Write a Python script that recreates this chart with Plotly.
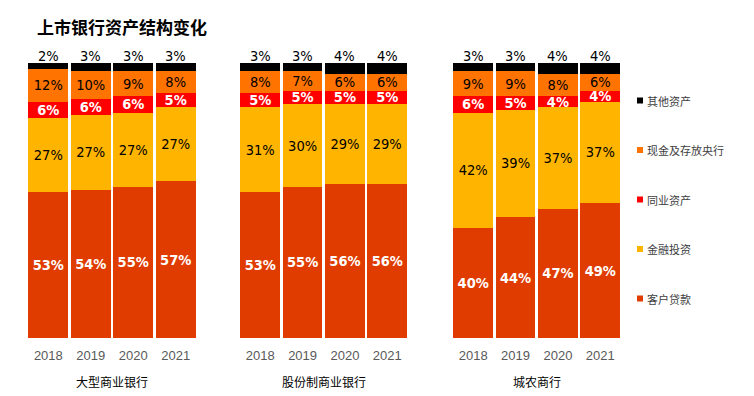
import plotly.graph_objects as go

# ---------------- data ----------------
years = ['2018', '2019', '2020', '2021']
groups = ['大型商业银行', '股份制商业银行', '城农商行']
series_names = ['客户贷款', '金融投资', '同业资产', '现金及存放央行', '其他资产']

loans = [[53, 54, 55, 57], [53, 55, 56, 56], [40, 44, 47, 49]]
invest = [[27, 27, 27, 27], [31, 30, 29, 29], [42, 39, 37, 37]]
interbank = [[6, 6, 6, 5], [5, 5, 5, 5], [6, 5, 4, 4]]
cash = [[12, 10, 9, 8], [8, 7, 6, 6], [9, 9, 8, 6]]
other = [[2, 3, 3, 3], [3, 3, 4, 4], [3, 3, 4, 4]]

series_values = [loans, invest, interbank, cash, other]
series_colors = ['#E03C00', '#FFB400', '#FF0000', '#FF7300', '#000000']
label_colors = ['#FFFFFF', '#000000', '#FFFFFF', '#000000', '#000000']
label_bold = [True, False, True, False, False]

W, H = 754, 396
LABEL_FONT = '"DejaVu Sans Condensed", "DejaVu Sans", sans-serif'
CJK = 'Noto Sans CJK SC'
LSIZE = 14.5

# x-domains (pixels) for the three panels
domains_px = [(27.1, 196.9), (239.1, 408.4), (452.0, 621.5)]
axis_ids = ['x', 'x2', 'x3']

fig = go.Figure()

for g in range(len(groups)):
    for s, name in enumerate(series_names):
        vals = series_values[s][g]
        if s < 4:
            txt = [f'<b>{v}%</b>' if label_bold[s] else f'{v}%' for v in vals]
        else:
            txt = None
        fig.add_trace(go.Bar(
            x=years, y=vals, name=name,
            xaxis=axis_ids[g], yaxis='y',
            marker=dict(color=series_colors[s], line=dict(width=0)),
            text=txt, textposition='inside' if txt else 'none',
            insidetextanchor='middle', textangle=0,
            textfont=dict(family=LABEL_FONT, size=LSIZE, color=label_colors[s]),
            showlegend=False, hoverinfo='skip',
        ))

annotations = []
# labels for the top (其他资产) segment, just above each bar
for g in range(len(groups)):
    for i, yr in enumerate(years):
        total = sum(series_values[s][g][i] for s in range(len(series_names)))
        annotations.append(dict(
            x=i, y=total, xref=axis_ids[g], yref='y',
            text=f'{other[g][i]}%', showarrow=False,
            yanchor='middle', yshift=7,
            font=dict(family=LABEL_FONT, size=LSIZE, color='#000000')))
    # group label
    annotations.append(dict(
        x=1.5, xref=axis_ids[g], y=1 - 381 / H, yref='paper',
        text=groups[g], showarrow=False, yanchor='middle',
        font=dict(family=CJK, size=12, color='#000000')))

# title
annotations.append(dict(
    x=35 / W, y=1 - 27 / H, xref='paper', yref='paper',
    xanchor='left', yanchor='middle', showarrow=False,
    text='<b>上市银行资产结构变化</b>',
    font=dict(family=CJK, size=17, color='#000000')))

# manual legend (top to bottom: reverse of stacking order)
shapes = []
legend_top_px, legend_step_px = 100.5, 49.5
for k, s in enumerate(reversed(range(len(series_names)))):
    cy = legend_top_px + k * legend_step_px
    shapes.append(dict(type='rect', xref='paper', yref='paper',
                       x0=637 / W, x1=643 / W,
                       y0=1 - (cy + 3) / H, y1=1 - (cy - 3) / H,
                       fillcolor=series_colors[s], line=dict(width=0)))
    annotations.append(dict(
        x=645 / W, y=1 - cy / H, xref='paper', yref='paper',
        xanchor='left', yanchor='middle', showarrow=False,
        text=series_names[s],
        font=dict(family=CJK, size=11, color='#404040')))

layout = dict(
    width=W, height=H, autosize=False,
    margin=dict(l=0, r=0, t=0, b=0),
    paper_bgcolor='white', plot_bgcolor='white',
    barmode='stack', bargap=0.06,
    uniformtext=dict(minsize=LSIZE, mode='show'),
    showlegend=False,
    yaxis=dict(domain=[1 - 338 / H, 1 - 63 / H], range=[0, 100],
               visible=False, fixedrange=True),
    annotations=annotations, shapes=shapes,
)
for g, ax in enumerate(axis_ids):
    key = 'xaxis' if ax == 'x' else 'xaxis' + ax[1:]
    layout[key] = dict(
        domain=[domains_px[g][0] / W, domains_px[g][1] / W],
        type='category', range=[-0.5, 3.5], anchor='y',
        showgrid=False, zeroline=False, showline=False, ticks='',
        ticklabelstandoff=8,
        tickfont=dict(family='Liberation Sans', size=13, color='#595959'),
        fixedrange=True)

fig.update_layout(**layout)
fig.write_html('out.html', config={'displayModeBar': False},
               post_script="document.body.style.margin='0';"
                           "document.body.style.padding='0';"
                           "document.body.style.overflow='hidden';")
